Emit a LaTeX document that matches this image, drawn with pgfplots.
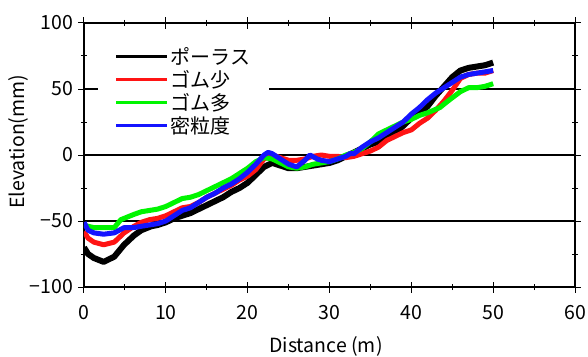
\documentclass[border=0pt]{standalone}
\usepackage{pgfplots}
\pgfplotsset{compat=1.18}
\usepackage{fontspec}
\setmainfont{Noto Sans CJK JP}
\definecolor{cRed}{RGB}{255,20,20}
\definecolor{cGreen}{RGB}{0,245,0}
\definecolor{cBlue}{RGB}{20,20,255}
\begin{document}
\begin{tikzpicture}
\begin{axis}[
  scale only axis, width=491pt, height=264pt,
  xmin=0, xmax=60, ymin=-100, ymax=100,
  xtick={0,10,...,60}, ytick={-100,-50,0,50,100},
  yticklabels={−100,−50,0,50,100},
  minor xtick={5,15,...,55}, minor ytick={-75,-25,25,75},
  tick align=center, major tick length=11pt, minor tick length=6pt,
  tick style={black, line width=1pt},
  axis line style={line width=1.2pt},
  ymajorgrids, grid style={black, line width=1.4pt},
  /pgf/number format/assume math mode=true,
  ticklabel style={font=\fontsize{19.5}{22}\selectfont},
  xticklabel style={yshift=-9pt},
  yticklabel style={xshift=-2pt},
  xlabel={Distance (m)}, ylabel={Elevation(mm)},
  label style={font=\fontsize{19.5}{22}\selectfont},
  xlabel style={at={(axis description cs:0.493,-0.227)}, anchor=center},
  ylabel style={at={(axis description cs:-0.134,0.55)}, anchor=center},
  legend style={at={(axis description cs:0.0285,0.924)}, anchor=north west, draw=none, fill=white,
    font=\fontsize{20}{22}\selectfont, row sep=0.5pt, inner xsep=17pt, inner ysep=2pt},
  legend cell align=left,
  legend image code/.code={\draw[#1, line width=2.5pt] (0pt,0pt) -- (51pt,0pt);},
  every axis plot/.append style={line join=round},
]
\addplot[black, line width=6pt] coordinates {
(0,-70) (0.5,-75) (1.2,-78) (2.4,-81) (3.7,-77) (4.9,-68) (6.1,-61) (7,-57) (8.2,-54) (9,-53)
(10,-51) (11,-48) (12,-46) (13,-44) (14,-41) (15,-38) (16,-35) (17,-32) (18,-28) (19,-25)
(20,-21) (21,-15) (22,-9) (23,-6) (24,-8) (25,-10) (26,-10) (27,-9) (28,-8) (29,-7)
(30,-6) (31,-4) (32,-1) (33,2) (34,5) (35,8) (36,10) (37,13) (38,17) (39,22)
(40,28) (41,32) (42,37) (43,45) (44,52) (45,59) (46,64) (47,66) (48,67) (49,68) (50,70)};
\addlegendentry{ポーラス}
\addplot[cRed, line width=5pt] coordinates {
(0,-58) (0.5,-63) (1.2,-66) (2.4,-68) (3.7,-66) (4.9,-59) (6.1,-54) (7,-51) (8,-49) (9,-48)
(10,-46) (11,-43) (12,-40) (13,-39) (14,-36) (15,-32) (16,-29) (17,-26) (18,-23) (19,-19)
(20,-16) (21,-11) (22,-3) (23,0) (24,-2) (25,-4) (26,-4) (27,-3) (28,-1) (29,0)
(30,-1) (31,-1) (32,-2) (33,-1) (34,1) (35,3) (36,6) (37,11) (38,14) (39,17)
(40,19) (41,24) (42,28) (43,34) (44,41) (45,49) (46,58) (47,61) (48,62) (49,62) (50,64)};
\addlegendentry{ゴム少}
\addplot[cGreen, line width=5pt] coordinates {
(0,-53) (0.5,-54) (1.2,-55) (2.4,-55) (3.7,-55) (4.5,-49) (6.1,-45) (7,-43) (8,-42) (9,-41)
(10,-39) (11,-36) (12,-33) (13,-32) (14,-30) (15,-27) (16,-24) (17,-21) (18,-18) (19,-14)
(20,-10) (21,-5) (22,-2) (23,-3) (24,-6) (25,-9) (26,-10) (27,-9) (28,-7) (29,-6)
(30,-5) (31,-3) (32,0) (33,2) (34,5) (35,10) (36,16) (37,19) (38,22) (39,25)
(40,27) (41,30) (42,32) (43.5,36) (44.5,41) (46,48) (47,51) (48,51) (49,52) (50,54)};
\addlegendentry{ゴム多}
\addplot[cBlue, line width=5pt] coordinates {
(0,-51) (0.5,-57) (1.2,-59) (2.4,-60) (3.7,-59) (4.9,-55) (6.1,-55) (7,-54) (8,-53) (9,-52)
(10,-50) (11,-46) (12,-42) (13,-40) (14,-36) (15,-32) (16,-29) (17,-25) (18,-22) (19,-18)
(20,-13) (21,-7) (22,0) (22.5,2) (23,1) (24,-3) (25,-7) (26,-9) (27,-4) (27.6,0) (28.5,-3) (29,-4)
(30,-5) (31,-3) (32,-1) (32.5,1) (33,1) (34,6) (35,10) (36,13) (37,17) (38,21) (39,25)
(40,31) (41,36) (42,42) (43,47) (44,51) (45,55) (46,59) (47,61) (48,62) (49,63) (50,64)};
\addlegendentry{密粒度}
\end{axis}
\pgfresetboundingbox
\path[use as bounding box] (-84pt,-69pt) rectangle (504pt,287pt);
\end{tikzpicture}
\end{document}
